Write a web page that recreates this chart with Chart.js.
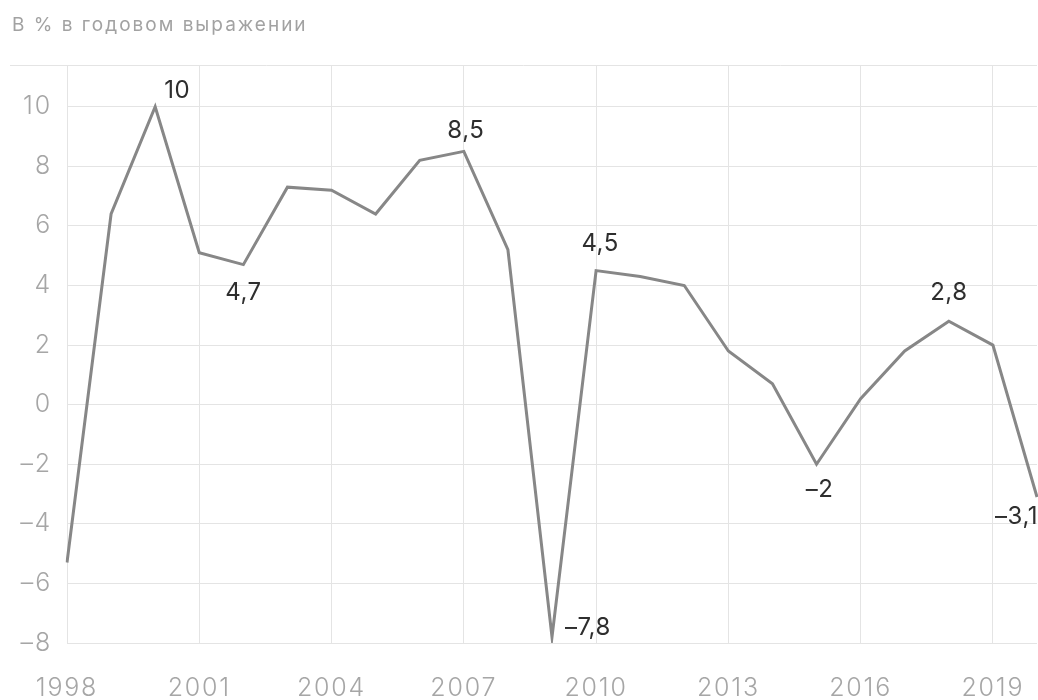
<!DOCTYPE html>
<html lang="ru">
<head>
<meta charset="utf-8">
<title>Рост ВВП</title>
<script src="https://cdn.jsdelivr.net/npm/chart.js@4.4.0/dist/chart.umd.min.js"></script>
<style>
  html, body { margin: 0; padding: 0; background: #fff; }
  #wrap { width: 1038px; height: 700px; position: relative; }
</style>
</head>
<body>
<div id="wrap"><canvas id="myChart"></canvas></div>
<script>
// Данные: прирост, % в годовом выражении
const years = ['1998', '1999', '2000', '2001', '2002', '2003', '2004', '2005', '2006', '2007', '2008',
    '2009', '2010', '2011', '2012', '2013', '2014', '2015', '2016', '2017', '2018', '2019', '2020'];
const growth = [-5.3, 6.4, 10, 5.1, 4.7, 7.3, 7.2, 6.4, 8.2, 8.5, 5.2,
    -7.8, 4.5, 4.3, 4.0, 1.8, 0.7, -2, 0.2, 1.8, 2.8, 2.0, -3.1];
const yearTicks = ['1998', '2001', '2004', '2007', '2010', '2013', '2016', '2019'];
const yTicks = [-8, -6, -4, -2, 0, 2, 4, 6, 8, 10];
const labelledYears = ['2000', '2002', '2007', '2009', '2010', '2015', '2018', '2020'];

// Положение подписей относительно точки
const labelPos = {
    '2000': { dx: 22, dy: -16, align: 'center' },
    '2002': { dx: 0, dy: 28, align: 'center' },
    '2007': { dx: 2, dy: -21, align: 'center' },
    '2009': { dx: 13, dy: -9, align: 'left' },
    '2010': { dx: 4, dy: -27, align: 'center' },
    '2015': { dx: 3, dy: 26, align: 'center' },
    '2018': { dx: 0, dy: -28, align: 'center' },
    '2020': { dx: 1, dy: 20, align: 'right' }
};

const FONT = 'Inter, "Helvetica Neue", Arial, sans-serif';
const gridColor = '#e4e4e4';
const tickSpacing = '1.8px';

function fmt(v) {
    return (v < 0 ? '–' : '') + String(Math.abs(v)).replace('.', ',');
}

// Заголовок, верхняя линия и подписи значений
const extras = {
    id: 'extras',
    beforeLayout(chart) {
        chart.ctx.letterSpacing = tickSpacing;
    },
    beforeDraw(chart) {
        const ctx = chart.ctx;
        ctx.letterSpacing = tickSpacing;
        ctx.save();
        ctx.fillStyle = '#fff';
        ctx.fillRect(0, 0, chart.width, chart.height);
        ctx.fillStyle = '#a2a2a2';
        ctx.font = '19px ' + FONT;
        ctx.letterSpacing = '2px';
        ctx.textBaseline = 'middle';
        ctx.textAlign = 'left';
        ctx.fillText('В % в годовом выражении', 12, 25);
        ctx.restore();
    },
    beforeDatasetsDraw(chart) {
        const ctx = chart.ctx;
        const area = chart.chartArea;
        ctx.save();
        ctx.strokeStyle = gridColor;
        ctx.lineWidth = 1;
        ctx.beginPath();
        ctx.moveTo(10, area.top + 0.5);
        ctx.lineTo(area.right, area.top + 0.5);
        ctx.stroke();
        ctx.restore();
    },
    afterDatasetsDraw(chart) {
        const ctx = chart.ctx;
        const meta = chart.getDatasetMeta(0);
        ctx.save();
        ctx.fillStyle = '#2e2e2e';
        ctx.font = '24px ' + FONT;
        ctx.letterSpacing = '0.5px';
        ctx.textBaseline = 'middle';
        labelledYears.forEach(y => {
            const i = years.indexOf(y);
            const pt = meta.data[i];
            const p = labelPos[y];
            ctx.textAlign = p.align;
            ctx.fillText(fmt(growth[i]), pt.x + p.dx, pt.y + p.dy);
        });
        ctx.restore();
    }
};

const ctx1 = document.getElementById('myChart').getContext('2d');
const myChart = new Chart(ctx1, {
    type: 'line',
    data: {
        labels: years,
        datasets: [{
            data: growth,
            borderColor: '#878787',
            borderWidth: 3,
            pointRadius: 0,
            tension: 0,
            fill: false
        }]
    },
    options: {
        responsive: true,
        maintainAspectRatio: false,
        animation: false,
        layout: { padding: { top: 65, right: 1, left: 0, bottom: 0 } },
        plugins: {
            legend: { display: false },
            tooltip: { enabled: false }
        },
        scales: {
            x: {
                offset: false,
                border: { display: false },
                grid: {
                    drawTicks: false,
                    color: c => yearTicks.includes(years[c.index]) ? gridColor : 'rgba(0,0,0,0)'
                },
                ticks: {
                    autoSkip: false,
                    maxRotation: 0,
                    padding: 30,
                    color: '#a6a6a6',
                    font: { family: FONT, size: 25, weight: 300 },
                    callback: (v, i) => yearTicks.includes(years[i]) ? years[i] : ''
                },
                afterFit: s => {
                    s.height = 57;
                    s.paddingLeft = 0;
                    s.paddingRight = 0;
                }
            },
            y: {
                min: -8,
                max: 11.4,
                border: { display: false },
                grid: { drawTicks: false, color: gridColor },
                afterBuildTicks: s => { s.ticks = yTicks.map(v => ({ value: v })); },
                ticks: {
                    padding: 15,
                    color: '#a6a6a6',
                    font: { family: FONT, size: 25, weight: 300 },
                    callback: v => fmt(v)
                },
                afterFit: s => { s.width = 67; }
            }
        }
    },
    plugins: [extras]
});
</script>
</body>
</html>
